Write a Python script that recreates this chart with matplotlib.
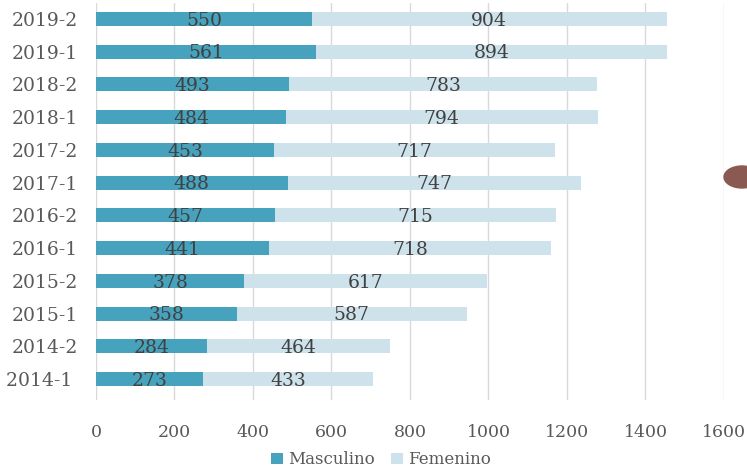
import matplotlib.pyplot as plt
from matplotlib.patches import Ellipse
import numpy as np

periodos = ["2014-1 ", "2014-2", "2015-1", "2015-2", "2016-1", "2016-2",
            "2017-1", "2017-2", "2018-1", "2018-2", "2019-1", "2019-2"]
masculino = [273, 284, 358, 378, 441, 457, 488, 453, 484, 493, 561, 550]
femenino = [433, 464, 587, 617, 718, 715, 747, 717, 794, 783, 894, 904]

col_m = "#47A3BD"
col_f = "#CDE2EA"

plt.rcParams['font.family'] = ['DejaVu Serif']

fig = plt.figure(figsize=(7.47, 4.73), dpi=100)
ax = fig.add_axes([0.1285, 0.154, 0.9692 - 0.1285, 0.994 - 0.154])

y = np.arange(len(periodos))
bm = ax.barh(y, masculino, height=0.43, color=col_m, label="Masculino", zorder=2)
bf = ax.barh(y, femenino, left=masculino, height=0.43, color=col_f, label="Femenino", zorder=2)

for i in range(len(periodos)):
    ax.text(masculino[i] / 2, y[i] - 0.05, str(masculino[i]), ha="center", va="center",
            fontsize=13.5, color="#404040", zorder=3)
    ax.text(masculino[i] + femenino[i] / 2, y[i] - 0.05, str(femenino[i]), ha="center", va="center",
            fontsize=13.5, color="#404040", zorder=3)

ax.set_xlim(0, 1600)
ax.set_ylim(-0.64, 11.49)
ax.set_xticks(range(0, 1601, 200))
ax.set_yticks(y)
ax.set_yticklabels(periodos)
ax.grid(axis="x", color="#D9D9D9", linewidth=1, zorder=0)
for s in ax.spines.values():
    s.set_visible(False)
ax.tick_params(axis="both", length=0, labelsize=12.5, colors="#595959")
ax.tick_params(axis="y", labelsize=13.5, pad=13)
ax.tick_params(axis="x", pad=17)

fig.legend(handles=[bm, bf], loc="center", bbox_to_anchor=(0.51, 0.028), ncol=2,
           frameon=False, fontsize=12, handlelength=0.7, handleheight=0.7,
           handletextpad=0.3, columnspacing=1.0, labelcolor="#595959")

# mancha marrón en el borde derecho
fig.patches.append(Ellipse((742 / 747, 1 - 177 / 473), 36 / 747, 22 / 473,
                           transform=fig.transFigure, color="#8A5A52", zorder=5))

fig.savefig("out.png", dpi=100)
